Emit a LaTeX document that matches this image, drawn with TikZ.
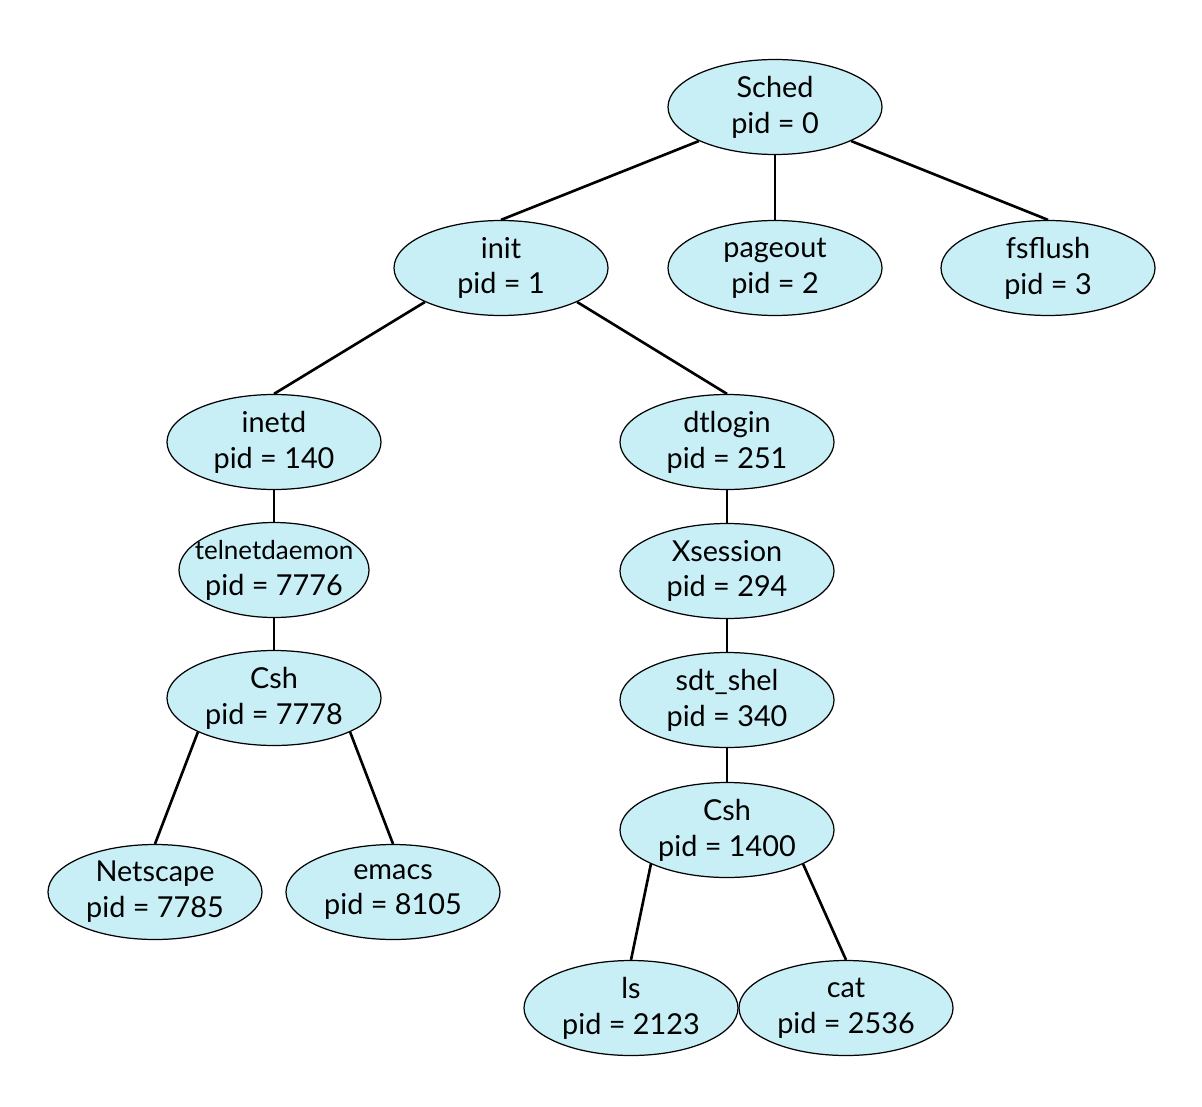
\documentclass[tikz,border=0pt]{standalone}
\usepackage{fontspec}
\setmainfont{Lato}
\usepackage{tikz}
\usetikzlibrary{shapes.geometric}
\definecolor{procFill}{RGB}{200,238,246}

\begin{document}
\begin{tikzpicture}[x=1cm, y=-1cm,
  proc/.style={ellipse, draw=black, line width=0.35pt, fill=procFill,
    minimum width=2.14cm, minimum height=0.95cm, inner sep=-2mm,
    align=center, font=\fontsize{8.2}{10.2}\selectfont},
  link/.style={line width=0.75pt}]
% frame: 1202 x 1106 px -> 12.02 x 11.06 cm
\useasboundingbox (0,0) rectangle (12.02,11.06);
% top two levels
\node[proc] (sched)   at (7.75,1.07) {Sched\\pid = 0};
\node[proc] (init)    at (5.01,2.68) {init\\pid = 1};
\node[proc] (pageout) at (7.75,2.68) {pageout\\pid = 2};
\node[proc] (fsflush) at (10.48,2.68) {fsflush\\pid = 3};
% left branch
\node[proc] (inetd)   at (2.74,4.42) {inetd\\pid = 140};
\node[proc, minimum width=1.9cm] (telnet) at (2.74,5.70)
  {{\fontsize{7.4}{10.2}\selectfont telnetdaemon}\\pid = 7776};
\node[proc] (cshA)    at (2.74,6.98) {Csh\\pid = 7778};
\node[proc] (netscape) at (1.55,8.92) {Netscape\\pid = 7785};
\node[proc] (emacs)   at (3.93,8.92) {emacs\\pid = 8105};
% right branch
\node[proc] (dtlogin) at (7.27,4.42) {dtlogin\\pid = 251};
\node[proc] (xsess)   at (7.27,5.71) {Xsession\\pid = 294};
\node[proc] (sdtshel) at (7.27,7.00) {sdt\_shel\\pid = 340};
\node[proc] (cshB)    at (7.27,8.30) {Csh\\pid = 1400};
\node[proc] (ls)      at (6.31,10.08) {ls\\pid = 2123};
\node[proc] (cat)     at (8.46,10.08) {cat\\pid = 2536};
% connectors
\draw[link] (sched.south west) -- (init.north);
\draw[link] (sched.south) -- (pageout.north);
\draw[link] (sched.south east) -- (fsflush.north);
\draw[link] (init.south west) -- (inetd.north);
\draw[link] (init.south east) -- (dtlogin.north);
\draw[link] (inetd.south) -- (telnet.north);
\draw[link] (telnet.south) -- (cshA.north);
\draw[link] (cshA.south west) -- (netscape.north);
\draw[link] (cshA.south east) -- (emacs.north);
\draw[link] (dtlogin.south) -- (xsess.north);
\draw[link] (xsess.south) -- (sdtshel.north);
\draw[link] (sdtshel.south) -- (cshB.north);
\draw[link] (cshB.south west) -- (ls.north);
\draw[link] (cshB.south east) -- (cat.north);
\end{tikzpicture}
\end{document}
